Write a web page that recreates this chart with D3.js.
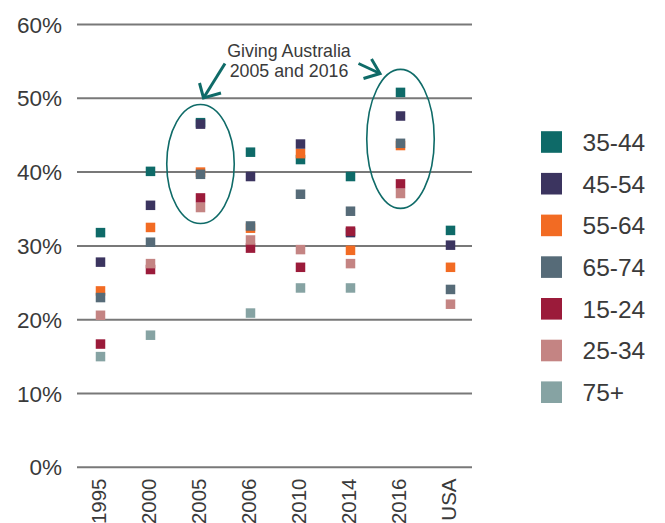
<!DOCTYPE html>
<html>
<head>
<meta charset="utf-8">
<script src="https://cdn.jsdelivr.net/npm/d3@7"></script>
<style>
html,body{margin:0;padding:0;background:#fff;}
svg{display:block;font-family:"Liberation Sans",Arial,Helvetica,sans-serif;}
</style>
</head>
<body>
<svg id="chart" width="665" height="523"></svg>
<script>
// ---- data ----
const categories = ["1995","2000","2005","2006","2010","2014","2016","USA"];
const seriesNames = ["35-44","45-54","55-64","65-74","15-24","25-34","75+"];
const seriesColors = ["#0e6a68","#3b345f","#f26b23","#566b78","#9b1b3a","#c48483","#86a3a3"];
const age3544 = [31.8, 40.1, 46.7, 42.7, 41.7, 39.4, 50.8, 32.1];
const age4554 = [27.8, 35.5, 46.5, 39.4, 43.8, 31.8, 47.6, 30.1];
const age5564 = [23.9, 32.5, 40.0, 32.4, 42.5, 29.4, 43.6, 27.1];
const age6574 = [23.0, 30.5, 39.7, 32.7, 37.0, 34.7, 43.9, 24.1];
const age1524 = [16.7, 26.8, 36.5, 29.7, 27.1, 32.0, 38.4, null];
const age2534 = [20.6, 27.6, 35.2, 30.8, 29.5, 27.6, 37.1, 22.1];
const age75p  = [15.0, 17.9, null, 20.9, 24.3, 24.3, null, null];
const seriesValues = [age3544, age4554, age5564, age6574, age1524, age2534, age75p];
const yTicks = [0, 10, 20, 30, 40, 50, 60];
const annotationText = ["Giving Australia", "2005 and 2016"];
const highlighted = [
  {cat: "2005", center: 41.1, halfRange: 8.06},
  {cat: "2016", center: 44.5, halfRange: 9.42}
];

// ---- layout ----
const svg = d3.select("#chart");
const x = d3.scaleBand().domain(categories).range([75.5, 475.5]).padding(0);
const y = d3.scaleLinear().domain([0, 60]).range([467.3, 24.5]);
const gridX0 = 77, gridX1 = 472;
const textColor = "#3a3a3a";
const teal = "#0f6b68";

// grid lines + y labels
const yAxis = svg.append("g");
yAxis.selectAll("line").data(yTicks).join("line")
  .attr("x1", gridX0).attr("x2", gridX1)
  .attr("y1", d => y(d)).attr("y2", d => y(d))
  .attr("stroke", "#787878").attr("stroke-width", 2);
yAxis.selectAll("text").data(yTicks).join("text")
  .attr("x", 62).attr("y", d => y(d)).attr("dy", "0.36em")
  .attr("text-anchor", "end")
  .attr("font-size", 22.5).attr("fill", textColor)
  .text(d => d + "%");

// x labels (rotated)
svg.append("g").selectAll("text").data(categories).join("text")
  .attr("transform", d => `translate(${x(d) + x.bandwidth()/2 + 5},478.5) rotate(-90)`)
  .attr("text-anchor", "end")
  .attr("font-size", 20.5).attr("fill", textColor)
  .text(d => d);

// markers
const ms = 9.5;
seriesNames.forEach((name, si) => {
  const pts = categories.map((c, i) => ({c, v: seriesValues[si][i]})).filter(p => p.v != null);
  svg.append("g").selectAll("rect").data(pts).join("rect")
    .attr("x", p => x(p.c) + x.bandwidth()/2 - ms/2)
    .attr("y", p => y(p.v) - ms/2)
    .attr("width", ms).attr("height", ms)
    .attr("fill", seriesColors[si]);
});

// ellipses
svg.append("g").selectAll("ellipse").data(highlighted).join("ellipse")
  .attr("cx", d => x(d.cat) + x.bandwidth()/2)
  .attr("cy", d => y(d.center))
  .attr("rx", x.bandwidth() * 0.675)
  .attr("ry", d => y(d.center - d.halfRange) - y(d.center))
  .attr("fill", "none").attr("stroke", teal).attr("stroke-width", 1.6);

// annotation text
const ann = svg.append("text").attr("text-anchor", "middle")
  .attr("font-size", 17.8).attr("fill", textColor);
annotationText.forEach((t, i) => {
  ann.append("tspan").attr("x", 289).attr("y", 56.5 + i * 20.7).text(t);
});

// arrows
const arrows = svg.append("g").attr("fill", "none").attr("stroke", teal)
  .attr("stroke-width", 3).attr("stroke-linecap", "butt").attr("stroke-linejoin", "miter");
arrows.append("path").attr("d", "M225,63.5 L203.5,98");
arrows.append("path").attr("d", "M199.5,83 L203.5,98 L221,93");
arrows.append("path").attr("d", "M358.5,63.5 L380,73.5");
arrows.append("path").attr("d", "M371.5,59 L380,73.5 L363.5,78.5");

// legend
const lg = svg.append("g");
seriesNames.forEach((name, i) => {
  const cy = 142 + i * 41.7;
  lg.append("rect").attr("x", 541).attr("y", cy - 10.8).attr("width", 21).attr("height", 21.6)
    .attr("fill", seriesColors[i]);
  lg.append("text").attr("x", 582.5).attr("y", cy).attr("dy", "0.36em")
    .attr("font-size", 24.5).attr("fill", textColor).text(name);
});
</script>
</body>
</html>
